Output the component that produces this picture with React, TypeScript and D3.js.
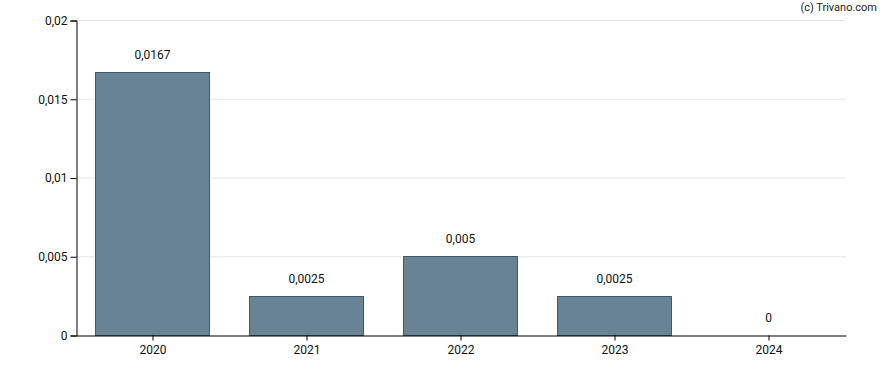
import React, { useEffect, useRef } from 'react';
import * as d3 from 'd3';

const years = ['2020', '2021', '2022', '2023', '2024'];
const dividends = [0.0167, 0.0025, 0.005, 0.0025, 0];
const yTicks = [0, 0.005, 0.01, 0.015, 0.02];

const fmt = (v: number) => String(v).replace('.', ',');

const App: React.FC = () => {
  const svgRef = useRef<SVGSVGElement>(null);

  useEffect(() => {
    if (!svgRef.current) return;
    const svg = d3.select(svgRef.current);
    svg.selectAll('*').remove();

    const width = 888;
    const height = 370;
    const left = 76, right = 846, top = 20, bottom = 335;

    const x = d3.scaleBand().domain(years).range([left, right]).paddingInner(0.26).paddingOuter(0.13);
    const y = d3.scaleLinear().domain([0, 0.02]).range([bottom, top]);

    svg.attr('width', width).attr('height', height);

    // gridlines
    svg.append('g')
      .selectAll('line')
      .data(yTicks.filter(t => t > 0))
      .enter()
      .append('line')
      .attr('x1', left).attr('x2', right)
      .attr('y1', d => y(d) + 0.5).attr('y2', d => y(d) + 0.5)
      .attr('stroke', '#e6e6e6')
      .attr('stroke-width', 1);

    // bars
    svg.append('g')
      .selectAll('rect')
      .data(dividends)
      .enter()
      .append('rect')
      .attr('x', (d, i) => Math.floor(x(years[i])!) - 0.5)
      .attr('y', d => Math.round(y(d)) + 0.5)
      .attr('width', Math.round(x.bandwidth()))
      .attr('height', d => Math.max(0, bottom - Math.round(y(d))))
      .attr('fill', '#678394')
      .attr('stroke', '#3f5a70')
      .attr('stroke-width', 1);

    // value labels
    svg.append('g')
      .selectAll('text')
      .data(dividends)
      .enter()
      .append('text')
      .attr('x', (d, i) => x(years[i])! + x.bandwidth() / 2 - 0.5)
      .attr('y', d => y(d) - 13)
      .attr('text-anchor', 'middle')
      .attr('font-family', 'Roboto, sans-serif')
      .attr('font-size', 12)
      .attr('fill', '#111')
      .text(d => fmt(d));

    // y axis
    const yAxis = svg.append('g')
      .attr('transform', `translate(${left + 0.5},0.5)`)
      .call(d3.axisLeft(y).tickValues(yTicks).tickSize(6).tickPadding(3).tickFormat(d => fmt(d as number)));
    yAxis.select('.domain').attr('stroke', '#000');
    yAxis.selectAll('.tick line').attr('stroke', '#000');
    yAxis.selectAll('text')
      .attr('font-family', 'Roboto, sans-serif')
      .attr('font-size', 12)
      .attr('fill', '#111');

    // x axis
    const xAxis = svg.append('g')
      .attr('transform', `translate(0,${bottom + 0.5})`)
      .call(d3.axisBottom(x).tickSize(5).tickSizeOuter(0).tickPadding(5));
    xAxis.select('.domain').attr('stroke', '#000');
    xAxis.selectAll('.tick line').attr('stroke', '#000');
    xAxis.selectAll('text')
      .attr('font-family', 'Roboto, sans-serif')
      .attr('font-size', 12)
      .attr('fill', '#111');

    // credit
    svg.append('text')
      .attr('x', 877)
      .attr('y', 11)
      .attr('text-anchor', 'end')
      .attr('font-family', 'Roboto, sans-serif')
      .attr('font-size', 11)
      .attr('fill', '#222')
      .text('(c) Trivano.com');
  }, []);

  return (
    <svg ref={svgRef} style={{ position: 'absolute', left: 0, top: 0, background: '#fff' }} />
  );
};

export default App;
